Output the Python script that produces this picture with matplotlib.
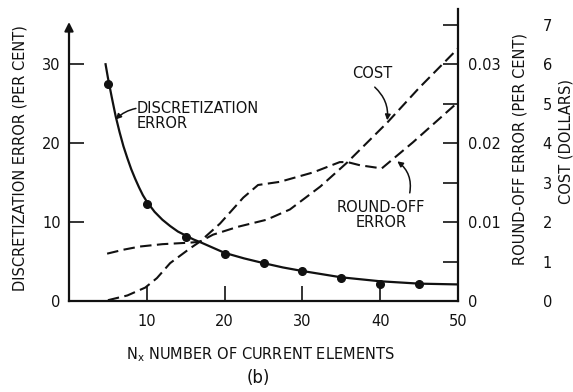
import matplotlib
matplotlib.use("Agg")
import matplotlib.pyplot as plt

plt.rcParams['font.family'] = ['DejaVu Sans']
plt.rcParams['mathtext.fontset'] = 'dejavusans'

# discretization error (per cent), smooth curve and measured points
n_disc_curve = [4.7, 5, 5.5, 6, 6.5, 7, 7.5, 8, 8.5, 9, 9.5, 10, 11, 12, 13, 14, 16, 17,
                20, 22.5, 25, 27.5, 30, 35, 40, 45, 50]
disc_curve = [30, 28.3, 25.8, 23.4, 21.4, 19.6, 18.1, 16.7, 15.5, 14.4, 13.4, 12.6, 11.3, 10.3,
              9.5, 8.8, 7.8, 7.4, 6.1, 5.4, 4.8, 4.25, 3.8, 3.0, 2.5, 2.2, 2.1]
n_disc_pts = [5, 10, 15, 20, 25, 30, 35, 40, 45]
disc_pts = [27.5, 12.3, 8.1, 6.0, 4.8, 3.8, 2.9, 2.1, 2.1]

# round-off error (per cent)
n_round = [5.0, 7.5, 9.8, 11.3, 13, 15.6, 16.8, 19.4, 22.4, 24.3, 27.1, 31.4, 34.8, 35.8, 37.4, 40.2, 44.2, 50]
round_off = [0.0001, 0.0007, 0.0017, 0.0029, 0.0048, 0.0067, 0.0075, 0.0098, 0.0131, 0.0147,
             0.0151, 0.0163, 0.0176, 0.0176, 0.0172, 0.0168, 0.0201, 0.0252]

# cost (dollars)
n_cost = [4.9, 7, 9.1, 12, 15.6, 16.8, 18.5, 21.7, 25.4, 28.4, 32.3, 35.7, 40.9, 45, 50]
cost = [1.2, 1.3, 1.38, 1.44, 1.48, 1.5, 1.68, 1.88, 2.06, 2.32, 2.9, 3.5, 4.52, 5.4, 6.4]

ink = '#111111'
ytop = 37.0
fs = 10.5

fig = plt.figure(figsize=(5.73, 3.92), dpi=100)
ax = fig.add_axes([69 / 573, 91 / 392, 389 / 573, 292 / 392])
ax2 = ax.twinx()
ax3 = ax.twinx()

ax.set_xlim(0, 50)
ax.set_ylim(0, ytop)
ax2.set_ylim(0, ytop / 1000)
ax3.set_ylim(0, ytop / 5)

# curves
ax.plot(n_disc_curve, disc_curve, color=ink, lw=1.6)
ax.plot(n_disc_pts, disc_pts, 'o', color=ink, ms=5.5)
ax2.plot(n_round, round_off, color=ink, lw=1.5, dashes=(5.5, 2.6))
ax3.plot(n_cost, cost, color=ink, lw=1.5, dashes=(5.5, 2.6))

# spines
for a in (ax, ax2, ax3):
    a.spines['top'].set_visible(False)
ax.spines['right'].set_visible(False)
ax2.spines['left'].set_visible(False)
ax2.spines['bottom'].set_visible(False)
for s in ax3.spines.values():
    s.set_visible(False)
for s in ('left', 'bottom'):
    ax.spines[s].set_linewidth(1.6)
    ax.spines[s].set_color(ink)
ax2.spines['right'].set_linewidth(1.6)
ax2.spines['right'].set_color(ink)
ax.spines['left'].set_bounds(0, 34)
ax.annotate('', xy=(0, 35.7), xytext=(0, 33.5),
            arrowprops=dict(arrowstyle='-|>', color=ink, lw=1.5, mutation_scale=13),
            annotation_clip=False)

# ticks
ax.set_xticks([10, 20, 30, 40, 50])
ax.set_yticks([0, 10, 20, 30])
ax.tick_params(axis='both', direction='in', length=11, width=1.2, color=ink,
               labelsize=fs, labelcolor=ink)
ax.tick_params(axis='x', pad=9)
ax.tick_params(axis='y', pad=6)

ax2.set_yticks([0, 0.01, 0.02, 0.03])
ax2.set_yticklabels(['0', '0.01', '0.02', '0.03'])
ax2.set_yticks([0.005, 0.015, 0.025, 0.035], minor=True)
ax2.tick_params(axis='y', which='both', direction='in', length=11, width=1.2, color=ink,
                labelsize=fs, labelcolor=ink, pad=7)

ax3.set_yticks([0, 1, 2, 3, 4, 5, 6, 7])
ax3.tick_params(axis='y', length=0, labelsize=fs, labelcolor=ink, pad=61)

# axis labels
ax.set_xlabel(r'$\mathregular{N_x}$ NUMBER OF CURRENT ELEMENTS', fontsize=fs, color=ink)
ax.xaxis.set_label_coords(0.491, -0.15)
ax.set_ylabel('DISCRETIZATION ERROR (PER CENT)', fontsize=fs, color=ink)
ax.yaxis.label.set_verticalalignment('center')
ax.yaxis.set_label_coords(-0.126, 0.49)
ax2.set_ylabel('ROUND-OFF ERROR (PER CENT)', fontsize=fs, color=ink)
ax2.yaxis.label.set_verticalalignment('center')
ax2.yaxis.set_label_coords(1.159, 0.52)
ax3.set_ylabel('COST (DOLLARS)', fontsize=fs, color=ink)
ax3.yaxis.label.set_verticalalignment('center')
ax3.yaxis.set_label_coords(1.278, 0.545)

# curve annotations
ax.text(8.7, 25.4, 'DISCRETIZATION\nERROR', ha='left', va='top', fontsize=fs,
        color=ink, linespacing=1.05)
ax.annotate('', xy=(6.0, 23.0), xytext=(8.6, 24.4),
            arrowprops=dict(arrowstyle='-|>', color=ink, lw=1.1, mutation_scale=8,
                            shrinkA=0, shrinkB=0, connectionstyle='arc3,rad=0.15'))
ax.text(38.95, 28.8, 'COST', ha='center', va='center', fontsize=fs, color=ink)
ax.annotate('', xy=(40.9, 22.9), xytext=(39.3, 27.1),
            arrowprops=dict(arrowstyle='-|>', color=ink, lw=1.1, mutation_scale=8,
                            shrinkA=0, shrinkB=0, connectionstyle='arc3,rad=-0.25'))
ax.text(40.1, 10.9, 'ROUND-OFF\nERROR', ha='center', va='center', fontsize=fs,
        color=ink, linespacing=1.05, multialignment='center')
ax.annotate('', xy=(42.2, 17.7), xytext=(43.8, 13.7),
            arrowprops=dict(arrowstyle='-|>', color=ink, lw=1.1, mutation_scale=8,
                            shrinkA=0, shrinkB=0, connectionstyle='arc3,rad=0.3'))

fig.text(258 / 573, 1 - 378 / 392, '(b)', ha='center', va='center', fontsize=12, color=ink)

fig.savefig('out.png', dpi=100)
